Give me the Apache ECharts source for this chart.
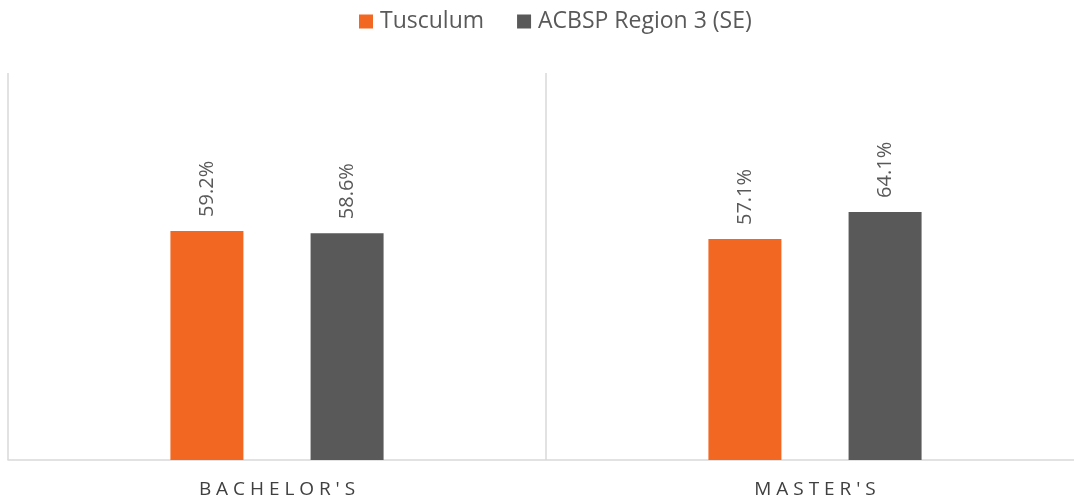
<!DOCTYPE html>
<html>
<head>
<meta charset="utf-8">
<script src="https://cdn.jsdelivr.net/npm/echarts@6/dist/echarts.min.js"></script>
<style>html,body{margin:0;padding:0;background:#fff;}#c{width:1074px;height:503px;}</style>
</head>
<body>
<div id="c"></div>
<script>
const categories = ["BACHELOR'S", "MASTER'S"];
const seriesNames = ["Tusculum", "ACBSP Region 3 (SE)"];
const tusculum = [59.2, 57.1];
const acbsp = [58.6, 64.1];
const colors = ['#F26722', '#595959'];

const chart = echarts.init(document.getElementById('c'), null, {renderer: 'canvas'});
const font = "'Open Sans', 'Noto Sans', sans-serif";
const labelCfg = {
  show: true, position: 'top', rotate: 90, align: 'left', verticalAlign: 'middle',
  distance: 14, fontFamily: font, fontSize: 20, color: '#595959',
  formatter: p => p.value.toFixed(1) + '%'
};
chart.setOption({
  animation: false,
  color: colors,
  legend: {
    top: 5, left: 354, itemWidth: 14, itemHeight: 14, itemGap: 33,
    icon: 'rect',
    textStyle: {fontFamily: font, fontSize: 23, color: '#595959', padding: [0, 0, 0, 2]},
    data: seriesNames
  },
  grid: {left: 8, right: -10, top: 73, bottom: 43, containLabel: false, outerBoundsMode: 'none'},
  xAxis: {
    type: 'category', data: categories,
    axisLine: {lineStyle: {color: '#d9d9d9', width: 1.5}},
    axisTick: {show: false},
    splitLine: {show: true, lineStyle: {color: '#d9d9d9', width: 1.5}},
    axisLabel: {
      margin: 20, fontFamily: font, fontSize: 19, color: '#404040',
      formatter: v => v.split('').join(' ')
    }
  },
  yAxis: {type: 'value', min: 0, max: 100, show: false, splitLine: {show: false}},
  series: [
    {name: seriesNames[0], type: 'bar', data: tusculum, barWidth: 73, barGap: '92%', label: labelCfg},
    {name: seriesNames[1], type: 'bar', data: acbsp, barWidth: 73, barGap: '92%', label: labelCfg}
  ]
});
</script>
</body>
</html>
